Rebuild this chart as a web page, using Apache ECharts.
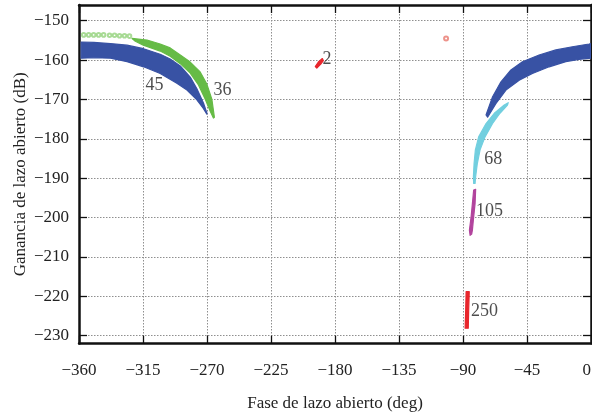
<!DOCTYPE html>
<html>
<head>
<meta charset="utf-8">
<script src="https://cdn.jsdelivr.net/npm/echarts@6/dist/echarts.min.js"></script>
<style>
  html, body { margin: 0; padding: 0; background: #fff; }
  #chart { width: 592px; height: 417px; }
</style>
</head>
<body>
<div id="chart"></div>
<script>
// Axis ticks
const xTicks = [-360, -315, -270, -225, -180, -135, -90, -45, 0];
const yTicks = [-230, -220, -210, -200, -190, -180, -170, -160, -150];

// Point-cloud outlines, [phase (deg), gain (dB)]
const cloud45Upper = [[-358.5,-155.4],[-349.6,-155.5],[-337.9,-155.8],[-326.2,-156.2],[-314.6,-157.1],[-302.9,-158.5],[-295.9,-159.7],[-288.8,-161.5],[-281.8,-164.3],[-277.1,-167.3],[-272.5,-170.9],[-270.1,-173.4]];
const cloud45Lower = [[-358.5,-159.5],[-349.6,-159.4],[-337.9,-159.5],[-326.2,-160.4],[-314.6,-161.7],[-302.9,-163.4],[-291.2,-165.9],[-284.1,-167.6],[-277.1,-170.1],[-272.7,-172.2],[-270.1,-173.7]];

const cloud36Upper = [[-322.7,-154.5],[-312.2,-154.9],[-302.9,-155.9],[-295.9,-156.9],[-288.8,-158.7],[-281.8,-160.5],[-274.8,-163.0],[-270.1,-166.1],[-266.6,-169.9],[-264.8,-174.5]];
const cloud36Lower = [[-320.4,-155.2],[-314.8,-156.2],[-302.9,-157.7],[-295.9,-159.0],[-288.8,-160.9],[-281.8,-163.3],[-276.0,-166.3],[-271.3,-169.9],[-267.8,-172.9],[-265.5,-174.7]];
const cloud36Sparse = [[-356.7,-153.6],[-353.2,-153.6],[-349.7,-153.6],[-346.2,-153.6],[-342.7,-153.6],[-338.5,-153.7],[-335.0,-153.7],[-331.5,-153.8],[-328.0,-153.8],[-324.5,-153.9]];

const cloudRightUpper = [[-73.8,-173.9],[-69.2,-169.3],[-63.3,-165.5],[-56.3,-162.5],[-48.2,-160.4],[-36.5,-158.7],[-24.7,-157.4],[-13.1,-156.6],[-1.4,-155.9],[0,-155.8]];
const cloudRightLower = [[-72.7,-174.5],[-66.8,-171.0],[-59.8,-167.6],[-50.5,-165.1],[-41.2,-163.4],[-29.4,-161.7],[-17.7,-160.4],[-8.4,-159.8],[0,-159.5]];

const cloud68Outer = [[-58.2,-170.8],[-58.7,-171.4],[-64.0,-173.5],[-69.2,-176.1],[-74.5,-179.5],[-78.0,-182.8],[-79.9,-186.2],[-81.1,-189.6],[-81.5,-191.3]];
const cloud68Inner = [[-61.0,-171.4],[-68.0,-173.5],[-73.8,-176.1],[-79.0,-179.5],[-81.3,-182.8],[-82.2,-186.2],[-82.7,-189.6],[-82.5,-191.3]];

const cloud105Right = [[-81.1,-192.8],[-81.5,-196.4],[-82.5,-199.8],[-83.4,-203.2],[-83.9,-204.2]];
const cloud105Left  = [[-82.5,-193.0],[-83.4,-196.4],[-84.3,-199.8],[-85.5,-203.2],[-85.0,-204.5]];

const cloud250Right = [[-85.6,-218.8],[-86.0,-223.4],[-86.3,-228.1]];
const cloud250Left  = [[-87.8,-218.8],[-88.1,-223.4],[-88.5,-228.1]];

const cloud2Outline = [[-193.85,-161.63],[-192.8,-162.01],[-190.0,-161.0],[-188.2,-160.11],[-188.9,-159.6],[-191.7,-160.49]];
const strayPoints = [[-101.9,-154.5]];

// Curve identifiers and where they sit
const tagNames = ['45', '36', '68', '105', '250', '2'];
const tagPositions = [[-313.3,-166.3],[-265.5,-167.6],[-75.0,-185.1],[-80.8,-198.3],[-84.3,-223.7],[-188.8,-159.8]];

const SERIF = "'Liberation Serif', 'Times New Roman', serif";
const minus = v => String(v).replace('-', '\u2212');

function cloud(name, upper, lower, color) {
  const ring = upper.concat(lower.slice().reverse());
  return {
    type: 'custom',
    name: name,
    xAxisIndex: 0, yAxisIndex: 0,
    data: ring,
    encode: { x: 0, y: 1 },
    silent: true,
    clip: true,
    renderItem: function (params, api) {
      if (params.dataIndex !== 0) return null;
      return {
        type: 'polygon',
        shape: { points: ring.map(p => api.coord(p)) },
        style: { fill: color, stroke: color, lineWidth: 1.2, lineJoin: 'round' }
      };
    }
  };
}

const frame = { show: true, onZero: false, lineStyle: { color: '#111', width: 2.5 } };
function ticksIn(values) {
  return { show: true, inside: true, length: 8, customValues: values, lineStyle: { color: '#111', width: 1.3 } };
}
const dotted = { show: true, lineStyle: { color: '#8f8f8f', width: 1, type: [1.5, 1.5] } };
const tickFont = { fontFamily: SERIF, fontSize: 17, color: '#222' };

const chart = echarts.init(document.getElementById('chart'), null, { renderer: 'canvas' });
chart.setOption({
  animation: false,
  backgroundColor: '#fff',
  grid: { left: 79, right: 1, top: 5, bottom: 73.4, containLabel: false, outerBoundsMode: 'none' },
  xAxis: [
    {
      type: 'value', position: 'bottom', min: -360, max: 0, interval: 45,
      axisLine: frame, axisTick: ticksIn(xTicks), splitLine: dotted,
      axisLabel: Object.assign({ customValues: xTicks, formatter: minus, margin: 18, alignMaxLabel: 'right' }, tickFont),
      name: 'Fase de lazo abierto (deg)', nameLocation: 'middle', nameGap: 51, nameMoveOverlap: false,
      nameTextStyle: tickFont
    },
    {
      type: 'value', position: 'top', min: -360, max: 0, interval: 45,
      axisLine: frame, axisTick: ticksIn(xTicks), splitLine: { show: false }, axisLabel: { show: false }
    }
  ],
  yAxis: [
    {
      type: 'value', position: 'left', min: -232, max: -146,
      axisLine: frame, axisTick: ticksIn(yTicks), splitLine: dotted,
      axisLabel: Object.assign({ customValues: yTicks, formatter: minus, margin: 10 }, tickFont),
      name: 'Ganancia de lazo abierto (dB)', nameLocation: 'middle', nameGap: 50, nameMoveOverlap: false,
      nameTextStyle: tickFont
    },
    {
      type: 'value', position: 'right', min: -232, max: -146,
      axisLine: frame, axisTick: ticksIn(yTicks), splitLine: { show: false }, axisLabel: { show: false }
    }
  ],
  series: [
    cloud('45', cloud45Upper, cloud45Lower, '#3852a4'),
    cloud('36', cloud36Upper, cloud36Lower, '#66bb46'),
    {
      type: 'scatter', name: '36 sparse', xAxisIndex: 0, yAxisIndex: 0,
      data: cloud36Sparse, symbol: 'emptyCircle', symbolSize: 3.6,
      itemStyle: { color: '#93d27c', borderWidth: 1 }, silent: true
    },
    cloud('right', cloudRightUpper, cloudRightLower, '#3852a4'),
    cloud('68', cloud68Outer, cloud68Inner, '#72cfdf'),
    cloud('105', cloud105Right, cloud105Left, '#b2449d'),
    cloud('250', cloud250Right, cloud250Left, '#e8262c'),
    cloud('2', cloud2Outline, [], '#e8262c'),
    {
      type: 'scatter', name: 'stray', xAxisIndex: 0, yAxisIndex: 0,
      data: strayPoints, symbol: 'emptyCircle', symbolSize: 4,
      itemStyle: { color: '#e8786e', borderWidth: 1 }, silent: true
    },
    {
      type: 'scatter', name: 'tags', xAxisIndex: 0, yAxisIndex: 0, symbolSize: 0, silent: true,
      data: tagNames.map((t, i) => ({ name: t, value: tagPositions[i] })),
      label: {
        show: true, position: 'right', distance: 0, formatter: '{b}',
        fontFamily: SERIF, fontSize: 18, color: '#222', align: 'left', verticalAlign: 'middle'
      },
      z: 5
    }
  ]
});
</script>
</body>
</html>
